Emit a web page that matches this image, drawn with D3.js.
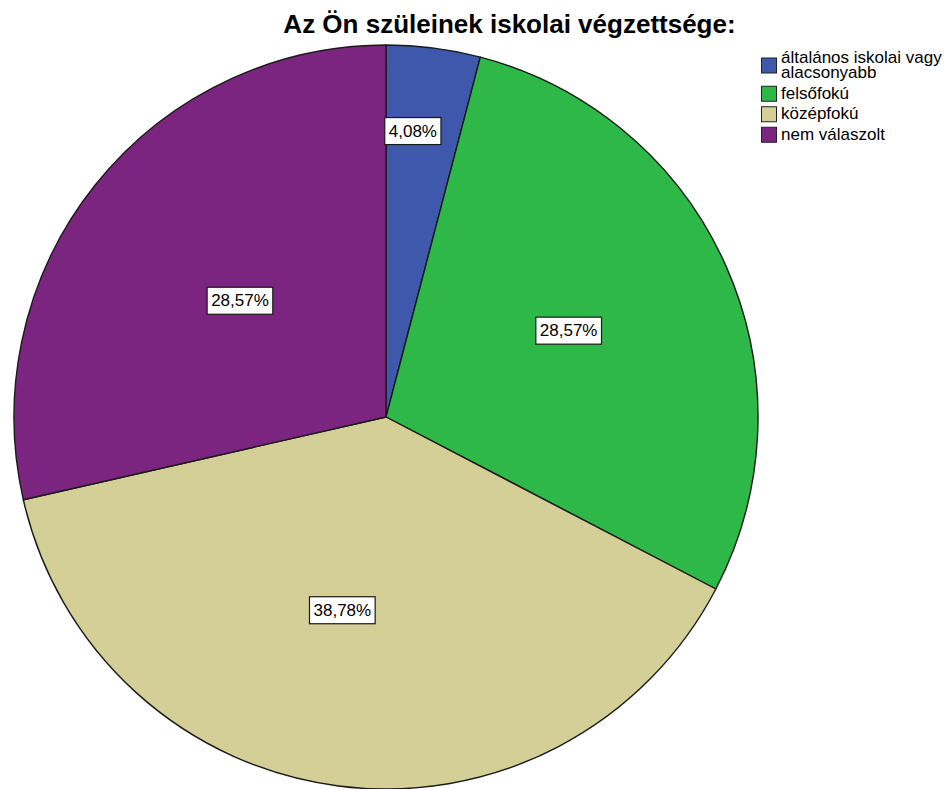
<!DOCTYPE html>
<html>
<head>
<meta charset="utf-8">
<script src="https://cdn.jsdelivr.net/npm/d3@7/dist/d3.min.js"></script>
<style>
  html, body { margin: 0; padding: 0; background: #ffffff; }
  svg { display: block; }
</style>
</head>
<body>
<svg id="chart" width="951" height="789"></svg>
<script>
// ---- data ----
const title = "Az Ön szüleinek iskolai végzettsége:";
const categories = ["általános iskolai vagy alacsonyabb", "felsőfokú", "középfokú", "nem válaszolt"];
const legendLines = [["általános iskolai vagy", "alacsonyabb"], ["felsőfokú"], ["középfokú"], ["nem válaszolt"]];
const percents = [4.08, 28.57, 38.78, 28.57];
const labels = ["4,08%", "28,57%", "38,78%", "28,57%"];
const colors = ["#3e58ac", "#2eb848", "#d4cf96", "#7b2580"];

// ---- layout ----
const W = 951, H = 789;
const cx = 386, cy = 417, R = 372;
// label placement: radius factor and small nudges (style)
const labelRadius = [0.775, 0.54, 0.54, 0.54];
const labelNudge = [[-10, 0], [-1, -5], [-18, -6], [11, 9]];
const svg = d3.select("#chart");

svg.append("text")
  .attr("x", 509.5).attr("y", 33)
  .attr("text-anchor", "middle")
  .style("font-family", "Arial, 'Liberation Sans', sans-serif")
  .style("font-weight", "bold")
  .style("font-size", "26px")
  .attr("fill", "#000")
  .text(title);

const data = categories.map((c, i) => ({ cat: c, value: percents[i], label: labels[i], color: colors[i], idx: i }));
const pie = d3.pie().sort(null).value(d => d.value);
const arcs = pie(data);
const arc = d3.arc().innerRadius(0).outerRadius(R);

const g = svg.append("g").attr("transform", `translate(${cx},${cy})`);
g.selectAll("path.slice").data(arcs).enter().append("path")
  .attr("class", "slice")
  .attr("d", arc)
  .attr("fill", d => d.data.color)
  .attr("stroke", "#1a1a1a")
  .attr("stroke-width", 1.4)
  .attr("stroke-linejoin", "round");

// labels
const lbl = g.selectAll("g.lbl").data(arcs).enter().append("g").attr("class", "lbl");
lbl.each(function(d) {
  const sel = d3.select(this);
  const i = d.data.idx;
  const k = labelRadius[i];
  const a = (d.startAngle + d.endAngle) / 2;
  const x = Math.sin(a) * R * k + labelNudge[i][0];
  const y = -Math.cos(a) * R * k + labelNudge[i][1];
  const t = sel.append("text")
    .attr("x", x).attr("y", y)
    .attr("text-anchor", "middle")
    .attr("dominant-baseline", "central")
    .style("font-family", "Arial, 'Liberation Sans', sans-serif")
    .style("font-size", "17px")
    .attr("fill", "#000")
    .text(d.data.label);
  const bb = t.node().getBBox();
  sel.insert("rect", "text")
    .attr("x", x - bb.width / 2 - 4).attr("y", y - 13.5)
    .attr("width", bb.width + 8).attr("height", 27)
    .attr("fill", "#fff")
    .attr("stroke", "#1a1a1a")
    .attr("stroke-width", 1.2);
});

// legend
const lg = svg.append("g");
const lineH = 15.5, gap = 5, sq = 15;
let itemTop = 50;
legendLines.forEach((lines, i) => {
  const h = lines.length * lineH;
  const c = itemTop + h / 2;
  lg.append("rect")
    .attr("x", 761.5).attr("y", c - sq / 2)
    .attr("width", sq).attr("height", sq)
    .attr("fill", colors[i])
    .attr("stroke", "#222").attr("stroke-width", 1);
  lines.forEach((ln, j) => {
    lg.append("text")
      .attr("x", 781).attr("y", itemTop + j * lineH + 12.5)
      .style("font-family", "Arial, 'Liberation Sans', sans-serif")
      .style("font-size", "17px")
      .attr("fill", "#000")
      .text(ln);
  });
  itemTop += h + gap;
});
</script>
</body>
</html>
